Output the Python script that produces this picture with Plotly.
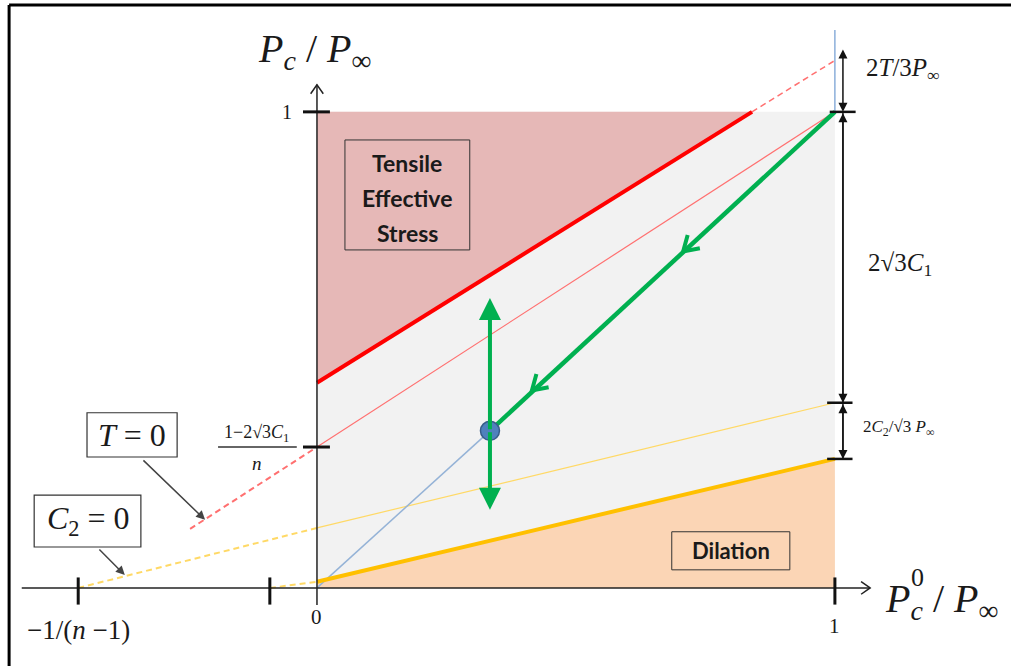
import math
import plotly.graph_objects as go

# ---- region boundaries (normalised pressures) ----
tensile_x = [0.0, 0.84, 0.0]
tensile_y = [0.431, 1.0, 1.0]
dilation_x = [0.0, 1.0, 1.0, 0.0]
dilation_y = [0.013, 0.271, 0.0, 0.0]
domain_x = [0.0, 1.0, 1.0, 0.0]
domain_y = [0.0, 0.0, 1.0, 1.0]

# ---- limit lines ----
red_thick_x = [0.0, 0.84]
red_thick_y = [0.431, 1.0]
red_thick_ext_x = [0.84, 1.0]
red_thick_ext_y = [1.0, 1.108]
red_thin_x = [0.0, 1.0]
red_thin_y = [0.296, 1.0]
red_thin_ext_x = [-0.245, 0.0]
red_thin_ext_y = [0.124, 0.296]
yellow_thin_x = [0.0, 1.0]
yellow_thin_y = [0.126, 0.389]
yellow_thin_ext_x = [-0.461, 0.0]
yellow_thin_ext_y = [0.0, 0.126]
yellow_thick_x = [0.0, 1.0]
yellow_thick_y = [0.013, 0.271]
yellow_thick_ext_x = [-0.091, 0.0]
yellow_thick_ext_y = [0.0, 0.013]
blue_diag_x = [0.0, 0.334]
blue_diag_y = [0.0, 0.33]
blue_vert_x = [1.0, 1.0]
blue_vert_y = [1.0, 1.172]

# ---- loading path ----
state_x, state_y = 0.334, 0.33
path_start = (1.0, 1.0)
path_heads_x = [0.707, 0.415]
path_up_y = 0.609
path_down_y = 0.164

# ---- axis ticks ----
xtick_vals = [-0.461, -0.091, 1.0]
ytick_vals = [1.0, 0.296]

# ---- dimension levels on the right ----
dim_x = 1.0155
dim_levels = [1.134, 1.0, 0.389, 0.271]

C_PINK = "#E6B8B7"
C_GREY = "#F2F2F2"
C_PEACH = "#FBD5B5"
C_RED = "#FF0000"
C_RED_L = "#FF7070"
C_YEL = "#FFC000"
C_YEL_L = "#FFD966"
C_BLUE = "#95B3D7"
C_GREEN = "#00B050"
SERIF = "Liberation Serif"
SANS = "Lato"
INK = "#1a1a1a"
DASH = "6px,4px"

W, H = 1011, 666
X_RANGE = [-0.612, 1.340]
Y_RANGE = [-0.164, 1.235]
SX = W / (X_RANGE[1] - X_RANGE[0])   # pixels per x unit
SY = H / (Y_RANGE[1] - Y_RANGE[0])   # pixels per y unit

fig = go.Figure()

def poly(xs, ys, color):
    fig.add_trace(go.Scatter(x=xs + xs[:1], y=ys + ys[:1], mode="lines", fill="toself",
                             fillcolor=color, line=dict(width=0), hoverinfo="skip"))

def seg(xs, ys, color, width, dash="solid"):
    fig.add_trace(go.Scatter(x=xs, y=ys, mode="lines", hoverinfo="skip",
                             line=dict(color=color, width=width, dash=dash)))

poly(domain_x, domain_y, C_GREY)
poly(tensile_x, tensile_y, C_PINK)
poly(dilation_x, dilation_y, C_PEACH)

seg(red_thin_x, red_thin_y, C_RED_L, 1.2)
seg(red_thin_ext_x, red_thin_ext_y, C_RED_L, 2, DASH)
seg(red_thick_ext_x, red_thick_ext_y, C_RED_L, 1.5, DASH)
seg(yellow_thin_x, yellow_thin_y, C_YEL_L, 1.2)
seg(yellow_thin_ext_x, yellow_thin_ext_y, C_YEL_L, 2, DASH)
seg(yellow_thick_ext_x, yellow_thick_ext_y, C_YEL_L, 2, DASH)
seg(blue_diag_x, blue_diag_y, C_BLUE, 1.5)
seg(blue_vert_x, blue_vert_y, "#6F9BD1", 1.2)
seg(red_thick_x, red_thick_y, C_RED, 4)
seg(yellow_thick_x, yellow_thick_y, C_YEL, 4)

annotations = []

def arrow(x0, y0, x1, y1, color, width, head, size=1.0, side="end"):
    annotations.append(dict(x=x1, y=y1, ax=x0, ay=y0, xref="x", yref="y", axref="x", ayref="y",
                            text="", showarrow=True, arrowcolor=color, arrowwidth=width,
                            arrowhead=head, arrowsize=size, arrowside=side,
                            startarrowhead=head, startarrowsize=size))

def open_head(tip, frm, color, width, arm=17, half_angle=32):
    """Open V arrowhead at `tip`, pointing away from `frm`."""
    dx = (tip[0] - frm[0]) * SX
    dy = (tip[1] - frm[1]) * SY
    n = math.hypot(dx, dy)
    ux, uy = dx / n, dy / n
    xs, ys = [], []
    for sgn in (1, -1):
        a = math.radians(half_angle) * sgn
        rx = ux * math.cos(a) - uy * math.sin(a)
        ry = ux * math.sin(a) + uy * math.cos(a)
        xs += [tip[0] - arm * rx / SX, tip[0]]
        ys += [tip[1] - arm * ry / SY, tip[1]]
    seg(xs, ys, color, width)

# green loading path along the diagonal
seg([path_start[0], state_x], [path_start[1], state_y], C_GREEN, 4.5)
for hx in path_heads_x:
    open_head((hx, hx), path_start, C_GREEN, 4)
# vertical excursions
arrow(state_x, state_y, state_x, path_up_y, C_GREEN, 4, 2, 1.1)
arrow(state_x, state_y, state_x, path_down_y, C_GREEN, 4, 2, 1.1)

fig.add_trace(go.Scatter(x=[state_x], y=[state_y], mode="markers", hoverinfo="skip",
                         marker=dict(size=19, color="#4F81BD", line=dict(color="#385D8A", width=1.5))))

shapes = []

def line(x0, y0, x1, y1, color="#222222", width=1.5):
    shapes.append(dict(type="line", xref="x", yref="y", x0=x0, y0=y0, x1=x1, y1=y1,
                       line=dict(color=color, width=width)))

# axes
line(-0.57, 0.0, 1.068, 0.0)
line(0.0, -0.036, 0.0, 1.057)
open_head((1.068, 0.0), (0.0, 0.0), "#222222", 1.5, arm=11, half_angle=35)
open_head((0.0, 1.057), (0.0, 0.0), "#222222", 1.5, arm=11, half_angle=35)
for xv in xtick_vals:
    line(xv, -0.035, xv, 0.022, "#111111", 3)
for yv in ytick_vals:
    line(-0.027, yv, 0.025, yv, "#111111", 3)

# dimension lines
line(dim_x, dim_levels[-1], dim_x, dim_levels[1], "#222222", 1.5)
for a, b in zip(dim_levels[:-1], dim_levels[1:]):
    arrow(dim_x, a, dim_x, b, "#111111", 1.5, 2, 1.2, "end+start")
line(0.99, 1.0, 1.04, 1.0, "#111111", 2.5)
line(0.985, 0.389, 1.034, 0.389, "#111111", 2.5)
line(0.985, 0.271, 1.034, 0.271, "#111111", 2.5)

# frame
shapes.append(dict(type="line", xref="paper", yref="paper", x0=0.009, y0=0.0, x1=0.009, y1=0.9925,
                   line=dict(color="black", width=3)))
shapes.append(dict(type="line", xref="paper", yref="paper", x0=0.009, y0=0.9925, x1=1.0, y1=0.9925,
                   line=dict(color="black", width=3)))

# text boxes
shapes.append(dict(type="rect", xref="x", yref="y", x0=0.054, y0=0.710, x1=0.295, y1=0.941,
                   line=dict(color="#333333", width=1), fillcolor=C_PINK))
shapes.append(dict(type="rect", xref="x", yref="y", x0=0.685, y0=0.038, x1=0.913, y1=0.118,
                   line=dict(color="#333333", width=1), fillcolor=C_PEACH))
shapes.append(dict(type="rect", xref="x", yref="y", x0=-0.444, y0=0.275, x1=-0.270, y1=0.368,
                   line=dict(color="#333333", width=1.2), fillcolor="white"))
shapes.append(dict(type="rect", xref="x", yref="y", x0=-0.546, y0=0.086, x1=-0.340, y1=0.195,
                   line=dict(color="#333333", width=1.2), fillcolor="white"))
# fraction bar
line(-0.191, 0.296, -0.039, 0.296, "#333333", 1.5)

arrow(-0.338, 0.271, -0.216, 0.143, "#444444", 1.5, 2, 1.2)
arrow(-0.423, 0.084, -0.371, 0.027, "#444444", 1.5, 2, 1.2)

def label(x, y, text, size, family=SERIF, color=INK, xanchor="center"):
    annotations.append(dict(x=x, y=y, xref="x", yref="y", text=text, showarrow=False,
                            font=dict(family=family, size=size, color=color), xanchor=xanchor,
                            yanchor="middle"))

for yy, word in zip([0.893, 0.819, 0.746], ["Tensile", "Effective", "Stress"]):
    label(0.174, yy, "<b>%s</b>" % word, 23, SANS)
label(0.799, 0.078, "<b>Dilation</b>", 22, SANS)
label(-0.357, 0.321, "<i>T</i> = 0", 32)
label(-0.442, 0.141, "<i>C</i><sub>2</sub> = 0", 32)
label(-0.004, 1.128, "<i>P</i><sub><i>c</i></sub> / <i>P</i><sub>∞</sub>", 40)
label(1.205, -0.028, "<i>P</i><sub><i>c</i></sub> / <i>P</i><sub>∞</sub>", 40)
label(1.160, 0.022, "0", 26)
label(-0.058, 1.0, "1", 20)
label(0.0, -0.062, "0", 21)
label(1.0, -0.079, "1", 21)
label(-0.461, -0.088, "−1/(<i>n</i> −1)", 27)
label(-0.116, 0.325, "1−2√3<i>C</i><sub>1</sub>", 18)
label(-0.116, 0.262, "<i>n</i>", 19)
label(1.131, 1.088, "2<i>T</i>/3<i>P</i><sub>∞</sub>", 25)
label(1.125, 0.679, "2√3<i>C</i><sub>1</sub>", 25)
label(1.122, 0.336, "2<i>C</i><sub>2</sub>/√3 <i>P</i><sub>∞</sub>", 17)

fig.update_layout(
    width=W, height=H, autosize=False,
    margin=dict(l=0, r=0, t=0, b=0, pad=0),
    paper_bgcolor="white", plot_bgcolor="white",
    showlegend=False,
    xaxis=dict(range=X_RANGE, visible=False, fixedrange=True),
    yaxis=dict(range=Y_RANGE, visible=False, fixedrange=True),
    shapes=shapes, annotations=annotations,
)

fig.write_html("out.html")
